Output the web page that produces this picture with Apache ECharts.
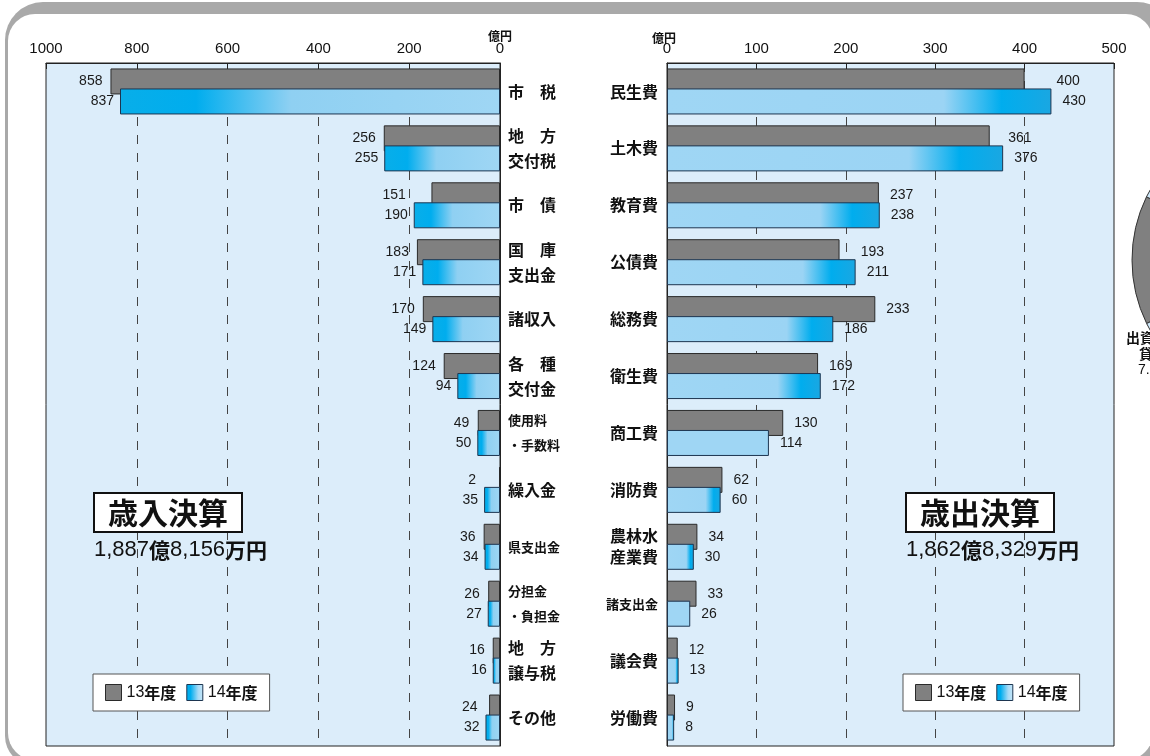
<!DOCTYPE html>
<html><head><meta charset="utf-8">
<script src="https://cdn.jsdelivr.net/npm/echarts@6/dist/echarts.min.js"></script>
<style>html,body{margin:0;padding:0;background:#fff}#c{width:1150px;height:756px}</style>
</head><body><div id="c"></div>
<script>
// ---- data ----
const revenueCategories = ['市税','地方交付税','市債','国庫支出金','諸収入','各種交付金','使用料・手数料','繰入金','県支出金','分担金・負担金','地方譲与税','その他'];
const revenue13 = [858,256,151,183,170,124,49,2,36,26,16,24];
const revenue14 = [837,255,190,171,149,94,50,35,34,27,16,32];
const expenseCategories = ['民生費','土木費','教育費','公債費','総務費','衛生費','商工費','消防費','農林水産費','諸支出金','議会費','労働費'];
const expense13 = [400,361,237,193,233,169,130,62,34,33,12,9];
const expense14 = [430,376,238,211,186,172,114,60,30,26,13,8];
const revenueTicks = [0,200,400,600,800,1000];
const expenseTicks = [0,100,200,300,400,500];
const seriesNames = ['13年度','14年度'];
const pieValues = [14.4, 42.8, 42.8];

// ---- display helpers ----
const CJK = '"Noto Sans CJK JP"';
const LAT = '"Liberation Sans", Arial';
const revenueLabelText = {
  '市税':'市　税','地方交付税':'地　方\n交付税','市債':'市　債','国庫支出金':'国　庫\n支出金',
  '各種交付金':'各　種\n交付金','使用料・手数料':'使用料\n・手数料','分担金・負担金':'分担金\n・負担金',
  '地方譲与税':'地　方\n譲与税'
};
const expenseLabelText = {'農林水産費':'農林水\n産業費'};
const smallLabels = ['使用料・手数料','県支出金','分担金・負担金','諸支出金'];
const plainBars = ['商工費','諸支出金'];

function catFormatter(map, tallTag){
  return function(v){
    const t = map[v] || v;
    const tag = smallLabels.includes(v) ? 's' : tallTag;
    return t.split('\n').map(l => '{' + tag + '|' + l + '}').join('\n');
  };
}
const richCat = {
  b:{fontSize:16,fontWeight:'bold',fontFamily:CJK,color:'#111',lineHeight:25},
  c:{fontSize:16,fontWeight:'bold',fontFamily:CJK,color:'#111',lineHeight:21},
  s:{fontSize:13,fontWeight:'bold',fontFamily:CJK,color:'#111',lineHeight:25}
};

const LIGHT = '#9fd6f4', STRONG = '#00adee';
const leftGrad = new echarts.graphic.LinearGradient(0,0,1,0,[
  {offset:0,color:'#08aee9'},{offset:0.2,color:STRONG},{offset:0.45,color:'#8fd0f2'},{offset:1,color:LIGHT}]);
const rightGrad = new echarts.graphic.LinearGradient(0,0,1,0,[
  {offset:0,color:LIGHT},{offset:0.72,color:'#9bd4f4'},{offset:0.87,color:STRONG},{offset:1,color:'#1aa7e2'}]);
const legendGrad = new echarts.graphic.LinearGradient(0,0,1,0,[
  {offset:0,color:STRONG},{offset:0.25,color:STRONG},{offset:0.7,color:'#a8daf6'},{offset:1,color:'#c6e7f9'}]);

const greyStyle = {color:'#808080',borderColor:'#2a2a2a',borderWidth:1};
const valueLabel = (pos, dist) => ({show:true,position:pos,distance:dist,fontSize:14,fontFamily:LAT,color:'#1a1a1a'});

function axisX(ticks, gi){
  return {
    gridIndex:gi,type:'value',position:'top',inverse:gi===0,
    min:ticks[0],max:ticks[ticks.length-1],interval:ticks[1]-ticks[0],
    axisLine:{show:true,lineStyle:{color:'#222',width:1}},
    axisTick:{show:true,inside:true,length:6,lineStyle:{color:'#222'}},
    axisLabel:{margin:7,fontSize:15,fontFamily:LAT,color:'#111',showMinLabel:true,showMaxLabel:true,formatter:v=>String(v)},
    splitLine:{show:true,showMinLine:false,showMaxLine:false,lineStyle:{type:[9,9],color:'#444',width:1}}
  };
}

const legendBase = {
  orient:'horizontal',top:674,itemWidth:16,itemHeight:16,itemGap:10,padding:[10,12],
  backgroundColor:'#fff',borderColor:'#555',borderWidth:1,icon:'rect',selectedMode:false,
  formatter: n => '{n|' + n.slice(0,2) + '}{b|' + n.slice(2) + '}',
  textStyle:{rich:{n:{fontSize:16,fontFamily:LAT,color:'#111'},b:{fontSize:16,fontFamily:CJK,fontWeight:'bold',color:'#111'}}},
  data:[{name:seriesNames[0],itemStyle:greyStyle},{name:seriesNames[1],itemStyle:{color:legendGrad,borderColor:'#1d3550',borderWidth:1}}]
};

function titleBox(x, title, amountA, amountB){
  return [
    {type:'rect',z:100,shape:{x:x,y:493,width:148,height:39},style:{fill:'#fff',stroke:'#111',lineWidth:2}},
    {type:'text',z:101,style:{x:x+74,y:513,text:title,font:'bold 30px ' + CJK,fill:'#111',align:'center',verticalAlign:'middle'}},
    {type:'text',z:101,style:{x:x,y:550,text:'{n|'+amountA+'}{b|億}{n|'+amountB+'}{b|万円}',align:'left',verticalAlign:'middle',
      rich:{n:{fontSize:22,fontFamily:LAT,fill:'#111'},b:{fontSize:21,fontFamily:CJK,fontWeight:'bold',fill:'#111'}}}}
  ];
}

const chart = echarts.init(document.getElementById('c'), null, {renderer:'canvas'});
chart.setOption({
  animation:false,
  backgroundColor:'#fff',
  grid:[
    {left:46,right:650,top:63,bottom:10,show:true,backgroundColor:'#dcedfa',borderColor:'#222',borderWidth:1},
    {left:667,right:36,top:63,bottom:10,show:true,backgroundColor:'#dcedfa',borderColor:'#222',borderWidth:1}
  ],
  xAxis:[axisX(revenueTicks,0), axisX(expenseTicks,1)],
  yAxis:[
    {gridIndex:0,type:'category',data:revenueCategories,inverse:true,position:'right',
     axisLine:{show:true,lineStyle:{color:'#222'}},axisTick:{show:false},
     axisLabel:{interval:0,margin:8,align:'left',formatter:catFormatter(revenueLabelText,'b'),rich:richCat}},
    {gridIndex:1,type:'category',data:expenseCategories,inverse:true,position:'left',
     axisLine:{show:true,lineStyle:{color:'#222'}},axisTick:{show:false},
     axisLabel:{interval:0,margin:9,align:'right',formatter:catFormatter(expenseLabelText,'c'),rich:richCat}}
  ],
  legend:[
    Object.assign({left:93}, legendBase),
    Object.assign({left:903}, legendBase)
  ],
  series:[
    {type:'bar',name:seriesNames[0],xAxisIndex:0,yAxisIndex:0,data:revenue13,barWidth:26,barGap:'-23%',
     itemStyle:greyStyle,label:valueLabel('left',8)},
    {type:'bar',name:seriesNames[1],xAxisIndex:0,yAxisIndex:0,data:revenue14,barWidth:26,barGap:'-23%',
     itemStyle:{color:leftGrad,borderColor:'#1d3550',borderWidth:1},label:valueLabel('left',6)},
    {type:'bar',name:seriesNames[0],xAxisIndex:1,yAxisIndex:1,data:expense13,barWidth:26,barGap:'-23%',
     itemStyle:greyStyle,label:valueLabel('right',11)},
    {type:'bar',name:seriesNames[1],xAxisIndex:1,yAxisIndex:1,barWidth:26,barGap:'-23%',
     data:expense14.map((v,i)=> plainBars.includes(expenseCategories[i]) ? {value:v,itemStyle:{color:LIGHT}} : v),
     itemStyle:{color:rightGrad,borderColor:'#1d3550',borderWidth:1},label:valueLabel('right',11)},
    {type:'pie',name:'pie',center:[1277,260],radius:145,startAngle:206,clockwise:true,silent:true,
     label:{show:false},labelLine:{show:false},
     itemStyle:{borderColor:'#333',borderWidth:1},
     data:pieValues.map((v,i)=>({value:v,name:'p'+i,itemStyle:{color:i===0?'#808080':'#cfe9fa'}}))}
  ],
  graphic:[
    {type:'rect',z:-100,shape:{x:5,y:2,width:1170,height:764,r:[38,38,30,30]},style:{fill:'#a9a9a9'}},
    {type:'rect',z:-99,shape:{x:8,y:14,width:1145,height:746,r:[27,27,27,27]},style:{fill:'#fff'}},
    {type:'text',z:100,style:{x:500,y:36,text:'億円',font:'bold 12px ' + CJK,fill:'#111',align:'center',verticalAlign:'middle'}},
    {type:'text',z:100,style:{x:664,y:38,text:'億円',font:'bold 12px ' + CJK,fill:'#111',align:'center',verticalAlign:'middle'}},
    ...titleBox(94,'歳入決算','1,887','8,156'),
    ...titleBox(906,'歳出決算','1,862','8,329'),
    {type:'text',z:100,style:{x:1126,y:338,text:'出資金・',font:'bold 14px ' + CJK,fill:'#111',align:'left',verticalAlign:'middle'}},
    {type:'text',z:100,style:{x:1139,y:354,text:'貸付金',font:'bold 14px ' + CJK,fill:'#111',align:'left',verticalAlign:'middle'}},
    {type:'text',z:100,style:{x:1138,y:370,text:'7.3%',font:'14px ' + LAT,fill:'#111',align:'left',verticalAlign:'middle'}}
  ]
});

// Grey-bar labels sit beyond the longer of the two bars in each pair (as in the reference)
function greyData(v13, v14, xi, dir, slack){
  return v13.map((v,i)=>{
    const a = chart.convertToPixel({xAxisIndex:xi}, v);
    const b = chart.convertToPixel({xAxisIndex:xi}, v14[i]);
    const off = dir < 0 ? Math.min(0, b - a + slack) : Math.max(0, b - a - slack);
    return {value:v, label:{offset:[off,0]}};
  });
}
chart.setOption({series:[
  {data:greyData(revenue13, revenue14, 0, -1, 0)},
  {},
  {data:greyData(expense13, expense14, 1, 1, 6)}
]});
</script></body></html>
